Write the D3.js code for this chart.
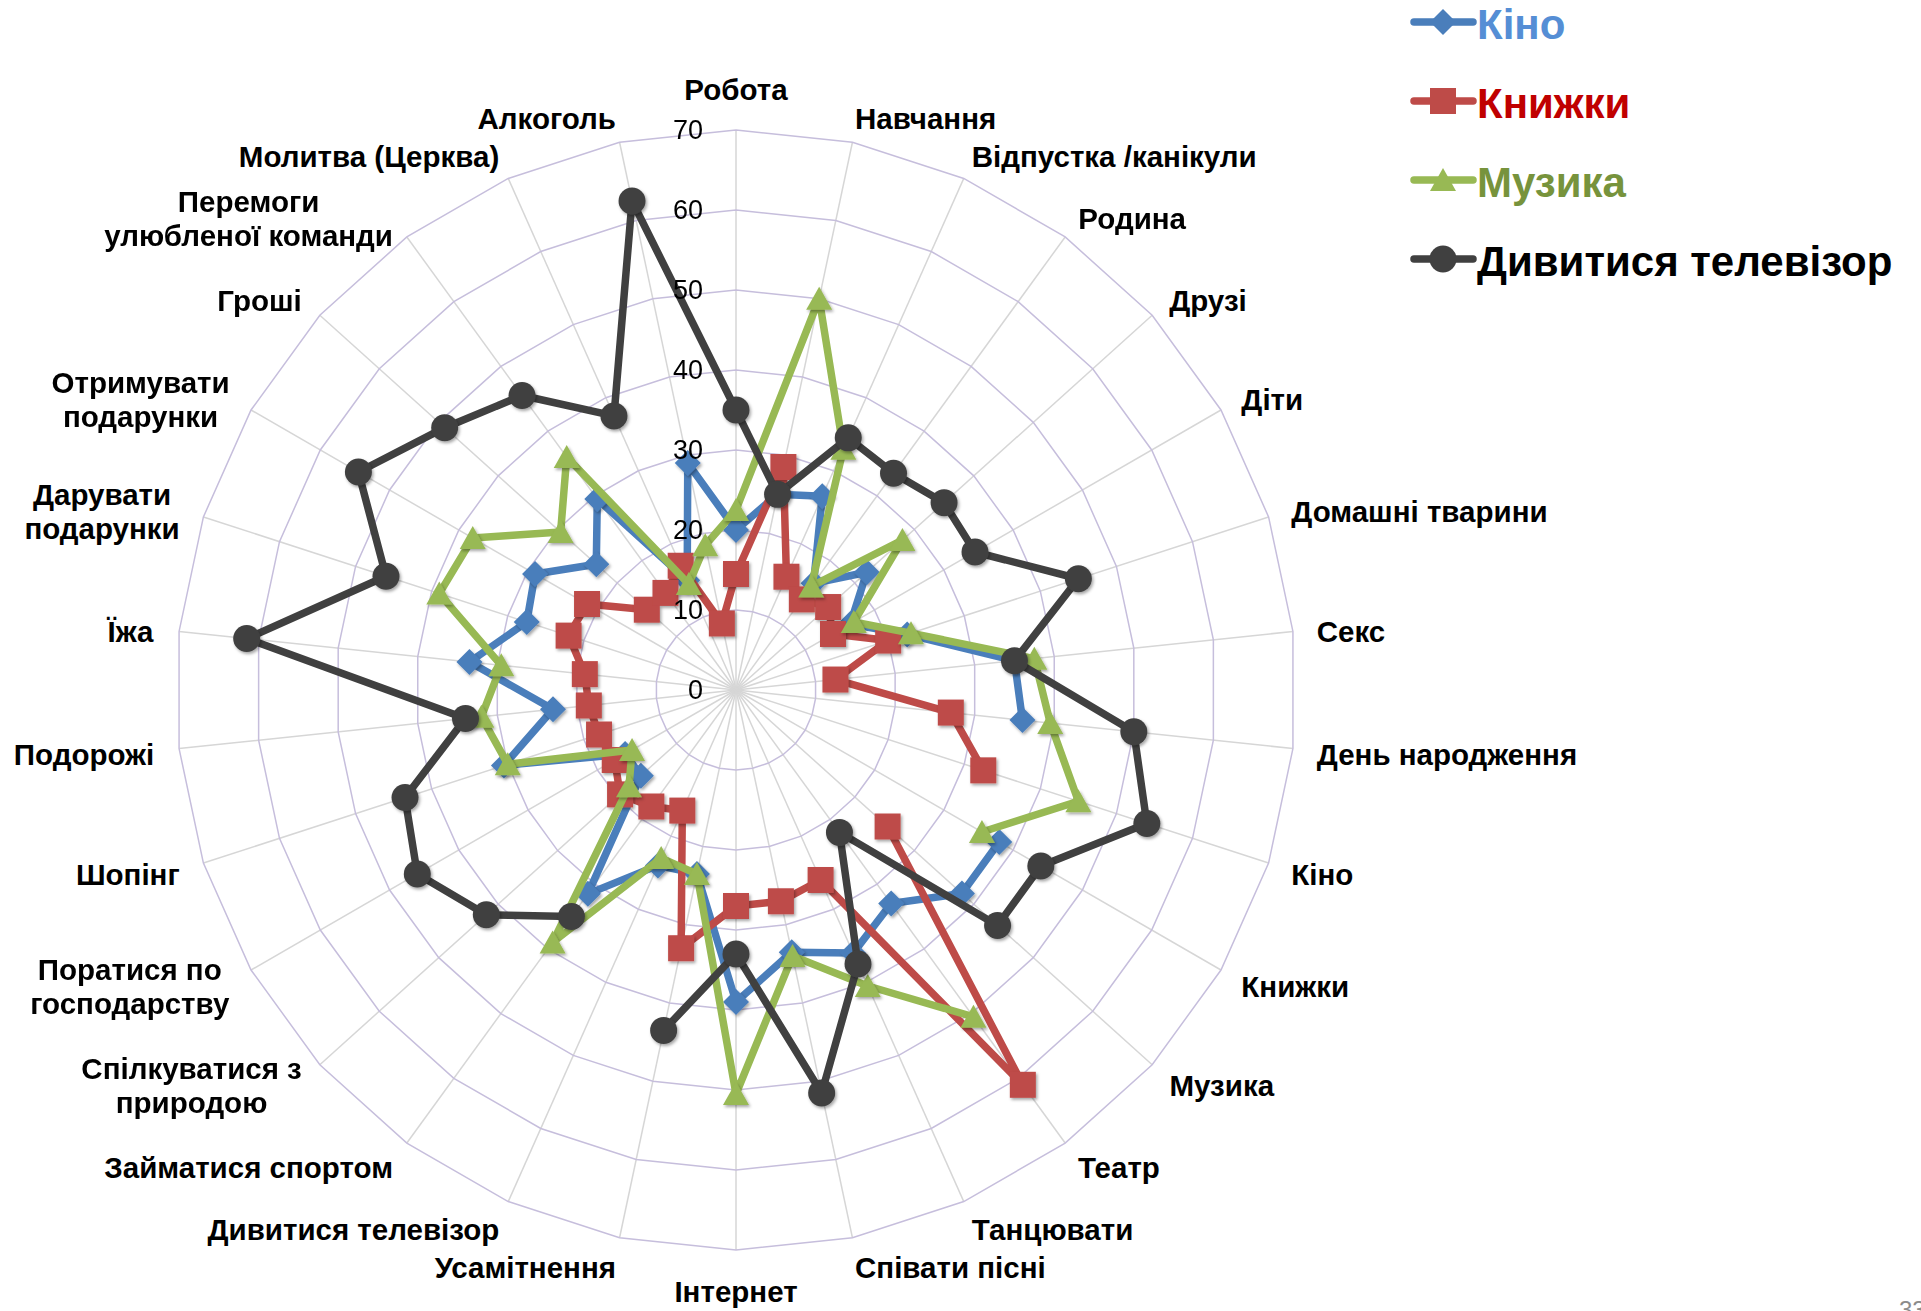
<!DOCTYPE html>
<html>
<head>
<meta charset="utf-8">
<script src="https://cdn.jsdelivr.net/npm/d3@7/dist/d3.min.js"></script>
<style>
  body { margin: 0; background: #fff; }
  svg { display: block; font-family: "Liberation Sans", Arial, sans-serif; }
</style>
</head>
<body>
<div id="chart"></div>
<script>
// categories, clockwise from the top ("\n" = line break in the label)
var categories = [
    "Робота", "Навчання", "Відпустка /канікули", "Родина", "Друзі", "Діти",
    "Домашні тварини", "Секс", "День народження", "Кіно", "Книжки", "Музика",
    "Театр", "Танцювати", "Співати пісні", "Інтернет", "Усамітнення",
    "Дивитися телевізор", "Займатися спортом", "Спілкуватися з\nприродою",
    "Поратися по\nгосподарству", "Шопінг", "Подорожі", "Їжа",
    "Дарувати\nподарунки", "Отримувати\nподарунки", "Гроші",
    "Перемоги\nулюбленої команди", "Молитва (Церква)", "Алкоголь"
];

// null = no value (the series' own category)
var kino = [20, 25, 26.5, 16.5, 22, 16.5, 22.5, 35, 36, null, 38, 38, 33, 36, 33.5,
    39, 23.5, 24, 31.5, 16, 16, 30.5, 23, 33.5, 27.5, 29, 23.5, 29.5, 15, 29];
var knyzhky = [14.5, 28.5, 15.5, 14, 15.5, 14, 20, 12.5, 27, 32.5, null, 25.5, 61, 26, 27,
    27, 33, 16.5, 18, 19.5, 17.5, 18, 18.5, 19, 22, 21.5, 15, 15, 17, 8.5];
var muzyka = [22.5, 50, 33, 16, 28, 17, 23, 37.5, 39.5, 45, 35.5, null, 50.5, 40.5, 34,
    50.5, 23.5, 23, 39, 18, 15, 30, 32, 29.5, 39, 38, 29.5, 36, 14.5, 18.5];
var televizor = [35, 25, 34.5, 33.5, 35, 34.5, 45, 35, 50, 54, 44, 44, 22, 37.5, 51.5,
    33, 43.5, null, 35, 42, 46, 43.5, 34, 61.5, 46, 54.5, 49, 45.5, 37.5, 62.5];

var seriesNames = ["Кіно", "Книжки", "Музика", "Дивитися телевізор"];
var ticks = [0, 10, 20, 30, 40, 50, 60, 70];

var series = [
    { name: seriesNames[0], values: kino, color: "#4a7ebb", text: "#558ed5", marker: "diamond" },
    { name: seriesNames[1], values: knyzhky, color: "#be4b48", text: "#c00000", marker: "square" },
    { name: seriesNames[2], values: muzyka, color: "#98b954", text: "#77933c", marker: "triangle" },
    { name: seriesNames[3], values: televizor, color: "#404040", text: "#000000", marker: "circle" }
];

var width = 1921, height = 1311;
var cx = 736, cy = 690;

var svg = d3.select("#chart").append("svg")
    .attr("width", width)
    .attr("height", height);

var defs = svg.append("defs");
defs.append("filter")
    .attr("id", "shadow")
    .attr("x", "-50%").attr("y", "-50%")
    .attr("width", "200%").attr("height", "200%")
    .append("feDropShadow")
    .attr("dx", 1.5).attr("dy", 2)
    .attr("stdDeviation", 1.5)
    .attr("flood-color", "#000")
    .attr("flood-opacity", 0.35);

var r = d3.scaleLinear().domain([0, 70]).range([0, 560]);
var angle = d3.scaleLinear().domain([0, categories.length]).range([0, 2 * Math.PI]);

function px(i, v) { return cx + r(v) * Math.sin(angle(i)); }
function py(i, v) { return cy - r(v) * Math.cos(angle(i)); }

// grid
var grid = svg.append("g");
grid.selectAll(".spoke")
    .data(categories)
    .enter()
    .append("line")
    .attr("x1", cx).attr("y1", cy)
    .attr("x2", function (d, i) { return px(i, 70); })
    .attr("y2", function (d, i) { return py(i, 70); })
    .attr("stroke", "#d6d6d6")
    .attr("stroke-width", 1.5);

grid.selectAll(".ring")
    .data(ticks.slice(1))
    .enter()
    .append("polygon")
    .attr("points", function (t) {
        return categories.map(function (c, i) { return px(i, t) + "," + py(i, t); }).join(" ");
    })
    .attr("fill", "none")
    .attr("stroke", "#c6bedc")
    .attr("stroke-width", 1.5);

// series
var line = d3.line()
    .defined(function (d) { return d.v != null; })
    .x(function (d) { return px(d.i, d.v); })
    .y(function (d) { return py(d.i, d.v); });

function markerPath(type) {
    if (type == "diamond") return "M0,-13L13,0L0,13L-13,0Z";
    if (type == "square") return "M-13,-13H13V13H-13Z";
    if (type == "triangle") return "M0,-12L13,11L-13,11Z";
    return d3.symbol().type(d3.symbolCircle).size(Math.PI * 13.5 * 13.5)();
}

series.forEach(function (s) {
    var pts = s.values.map(function (v, i) { return { i: i, v: v }; });
    var closed = pts.concat([pts[0]]);
    var sg = svg.append("g");
    sg.append("path")
        .attr("d", line(closed))
        .attr("fill", "none")
        .attr("stroke", s.color)
        .attr("stroke-width", 7.5)
        .attr("stroke-linejoin", "round");
    sg.append("g")
        .attr("filter", "url(#shadow)")
        .selectAll("path")
        .data(pts.filter(function (d) { return d.v != null; }))
        .enter()
        .append("path")
        .attr("d", markerPath(s.marker))
        .attr("transform", function (d) { return "translate(" + px(d.i, d.v) + "," + py(d.i, d.v) + ")"; })
        .attr("fill", s.color);
});

// tick labels
svg.append("g")
    .selectAll("text")
    .data(ticks)
    .enter()
    .append("text")
    .attr("x", cx - 33)
    .attr("y", function (t) { return py(0, t); })
    .attr("text-anchor", "end")
    .attr("dominant-baseline", "central")
    .attr("font-size", 27)
    .attr("fill", "#000")
    .text(function (t) { return t; });

// category labels
var labelR = 587;
categories.forEach(function (c, i) {
    var a = angle(i);
    var s = Math.sin(a), co = Math.cos(a);
    var x = cx + labelR * s;
    var y = cy - labelR * co;
    var lines = c.split("\n");
    var lg = svg.append("g");
    var t = lg.append("text")
        .attr("text-anchor", "middle")
        .attr("font-size", 29.5)
        .attr("font-weight", "bold")
        .attr("fill", "#000");
    lines.forEach(function (l, k) {
        t.append("tspan")
            .attr("x", 0)
            .attr("y", (k - (lines.length - 1) / 2) * 34)
            .attr("dominant-baseline", "central")
            .text(l);
    });
    var w = t.node().getBBox().width;
    var tx, ty;
    if (Math.abs(s) < 0.01) {
        tx = x;
        ty = y - co * 14;
    } else {
        tx = s > 0 ? x + w / 2 - 3 : x - w / 2 + 2;
        ty = y + 3;
    }
    lg.attr("transform", "translate(" + tx + "," + ty + ")");
});

// legend
var legend = svg.append("g");
series.forEach(function (s, k) {
    var ly = 22 + k * 79;
    legend.append("line")
        .attr("x1", 1414).attr("x2", 1473)
        .attr("y1", ly).attr("y2", ly)
        .attr("stroke", s.color)
        .attr("stroke-width", 7.5)
        .attr("stroke-linecap", "round");
    legend.append("path")
        .attr("d", markerPath(s.marker))
        .attr("transform", "translate(1443," + ly + ")")
        .attr("fill", s.color);
    legend.append("text")
        .attr("x", 1477)
        .attr("y", ly + 2)
        .attr("dominant-baseline", "central")
        .attr("font-size", 42)
        .attr("font-weight", "bold")
        .attr("fill", s.text)
        .text(s.name);
});

// slide number (cut off at the edge, as in the original)
svg.append("text")
    .attr("x", 1899)
    .attr("y", 1318)
    .attr("font-size", 24)
    .attr("fill", "#8c8c8c")
    .text("33");
</script>
</body>
</html>
